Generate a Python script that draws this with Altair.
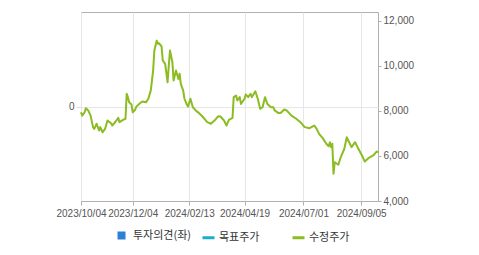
import altair as alt
import pandas as pd

# trading-day index (x) and adjusted price (수정주가)
day_idx = [0, 1, 3, 4, 6, 8, 10, 11, 13, 15, 16, 18, 20, 22, 25, 26, 29, 31, 32, 35,
           37, 38, 39, 40, 42, 43, 45, 46, 49, 51, 54, 56, 58, 60, 61, 63, 64, 65, 67, 68,
           70, 72, 73, 74, 76, 77, 79, 81, 82, 83, 85, 86, 88, 89, 91, 93, 96, 98, 101, 105,
           108, 111, 114, 116, 119, 121, 123, 126, 127, 129, 130, 132, 133, 136, 137, 139, 141, 142, 145, 147,
           149, 151, 153, 155, 158, 160, 161, 164, 166, 169, 171, 175, 179, 183, 186, 190, 194, 196, 198, 201,
           204, 206, 207, 208, 209, 210, 211, 214, 216, 219, 221, 223, 225, 228, 230, 233, 234, 236, 239, 243,
           246, 247]
price = [7940, 7790, 7940, 8120, 8020, 7790, 7280, 7200, 7430, 7130, 7280, 7050, 7200, 7570, 7450, 7350, 7540, 7690, 7500, 7600,
         7650, 8760, 8610, 8380, 8280, 7940, 8050, 8190, 8340, 8420, 8380, 8540, 8900, 9790, 10680, 11120, 10980, 11000, 10860, 10240,
         10090, 9270, 10010, 10680, 10160, 9350, 9790, 9420, 9650, 9200, 8900, 8550, 8280, 8190, 8540, 8160, 7990, 7910, 7750, 7500,
         7430, 7570, 7760, 7750, 7570, 7350, 7600, 7690, 8610, 8680, 8460, 8610, 8310, 8540, 8730, 8610, 8760, 8610, 8870, 8540,
         8090, 8160, 8610, 8310, 8160, 8160, 8020, 7910, 7910, 8060, 8020, 7790, 7650, 7470, 7280, 7230, 7350, 7200, 6980, 6790,
         6540, 6430, 6610, 6390, 6540, 5210, 5720, 5610, 5940, 6320, 6830, 6610, 6390, 6610, 6390, 6090, 5990, 5750, 5900, 6020,
         6200, 6150]

tick_idx = [0, 43, 90, 136, 185, 233]
tick_labels = ["2023/10/04", "2023/12/04", "2024/02/13", "2024/04/19", "2024/07/01", "2024/09/05"]
right_ticks = [4000, 6000, 8000, 10000, 12000]

opinion_name = ["투자의견(좌)"]
opinion_color = ["#2f7ed8"]
line_names = ["목표주가", "수정주가"]
line_colors = ["#1aadce", "#8bbc21"]

df = pd.DataFrame({"idx": day_idx, "price": price, "series": line_names[1]})
opinion = pd.DataFrame({"idx": [0], "opinion": [0], "series": opinion_name})

label_expr = " : ".join(f"datum.value == {i} ? '{l}'" for i, l in zip(tick_idx, tick_labels)) + " : ''"

x_enc = alt.X("idx:Q",
              scale=alt.Scale(domain=[0, 247], nice=False, zero=False),
              axis=alt.Axis(values=tick_idx, labelExpr=label_expr, title=None,
                            grid=True, gridColor="#e6e6e6", domain=False,
                            ticks=True, tickSize=4, tickColor="#b0b0b0",
                            labelPadding=3, labelFont="Liberation Sans", labelFontSize=10,
                            labelColor="#555555", labelFlush=False, labelOverlap=False))

legend_common = dict(title=None, orient="none", direction="horizontal", padding=0,
                     labelFont="Noto Sans CJK KR", labelFontSize=11, labelColor="#333333")

left_layer = alt.Chart(opinion).mark_point(opacity=0, shape="square", filled=True).encode(
    x=x_enc,
    y=alt.Y("opinion:Q", scale=alt.Scale(domain=[-1, 1], nice=False),
            axis=alt.Axis(orient="left", values=[0], title=None, grid=True,
                          gridColor="#e6e6e6", domain=False, tickSize=5,
                          tickColor="#dddddd", labelPadding=2,
                          labelFont="Liberation Sans", labelFontSize=10,
                          labelColor="#555555")),
    fill=alt.Fill("series:N", scale=alt.Scale(domain=opinion_name, range=opinion_color),
                  legend=alt.Legend(legendX=35, legendY=218, symbolType="square",
                                    symbolSize=64, symbolOpacity=1, symbolStrokeWidth=0,
                                    labelOffset=6, **legend_common)),
)

price_layer = alt.Chart(df).mark_line(strokeWidth=2, strokeJoin="round").encode(
    x=x_enc,
    y=alt.Y("price:Q", scale=alt.Scale(domain=[4000, 12390], nice=False, zero=False),
            axis=alt.Axis(orient="right", values=right_ticks, format=",.0f", title=None,
                          grid=False, domain=False, tickSize=3, tickColor="#b0b0b0",
                          labelPadding=2, labelFont="Liberation Sans", labelFontSize=10,
                          labelColor="#555555")),
    stroke=alt.Stroke("series:N",
                      scale=alt.Scale(domain=line_names, range=line_colors),
                      legend=alt.Legend(legendX=120, legendY=218, symbolType="stroke",
                                        symbolStrokeWidth=3, symbolSize=144,
                                        labelOffset=3, columnPadding=26,
                                        **legend_common)),
)

chart = alt.layer(left_layer, price_layer).resolve_scale(y="independent").properties(
    width=297, height=189,
    autosize=alt.AutoSizeParams(type="none"),
    padding={"left": 81, "top": 12, "right": 101, "bottom": 54},
    background="white",
).configure_view(stroke="#b0b0b0", strokeWidth=1)

chart.save("out.html", embed_options={"renderer": "svg", "actions": False})
